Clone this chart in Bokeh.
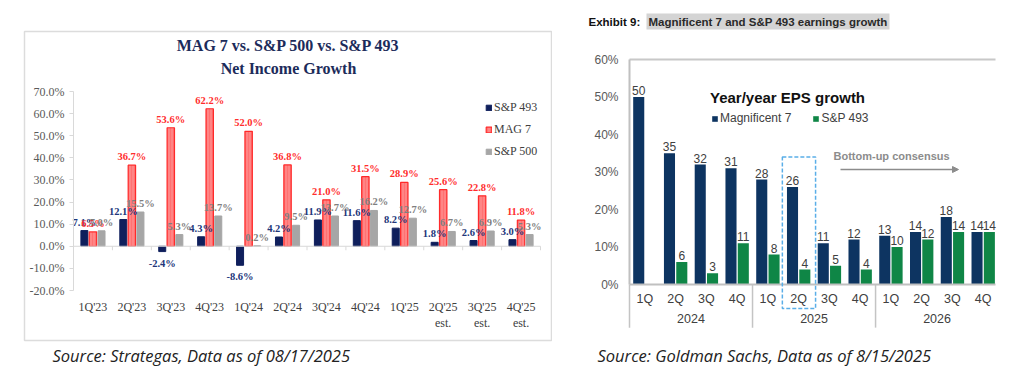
import numpy as np
from bokeh.plotting import figure
from bokeh.models import (ColumnDataSource, Range1d, FixedTicker, LinearAxis, Label,
                          BoxAnnotation, Legend, LegendItem, Arrow, NormalHead, PrintfTickFormatter)
from bokeh.transform import dodge
from bokeh.layouts import row
from bokeh.embed import file_html
from bokeh.resources import INLINE
from bokeh.core.properties import value

# ---------------- data: left chart (Strategas) ----------------
left_quarters = ["1Q'23", "2Q'23", "3Q'23", "4Q'23", "1Q'24", "2Q'24", "3Q'24", "4Q'24",
                 "1Q'25", "2Q'25\nest.", "3Q'25\nest.", "4Q'25\nest."]
sp493_ni = [7.1, 12.1, -2.4, 4.3, -8.6, 4.2, 11.9, 11.6, 8.2, 1.8, 2.6, 3.0]
mag7_ni = [6.5, 36.7, 53.6, 62.2, 52.0, 36.8, 21.0, 31.5, 28.9, 25.6, 22.8, 11.8]
sp500_ni = [7.0, 15.5, 5.3, 13.7, 0.2, 9.5, 13.7, 16.2, 12.7, 6.7, 6.9, 5.3]
left_yticks = [-20, -10, 0, 10, 20, 30, 40, 50, 60, 70]

# ---------------- data: right chart (Goldman Sachs) ----------------
right_quarters = ["1Q", "2Q", "3Q", "4Q", "1Q", "2Q", "3Q", "4Q", "1Q", "2Q", "3Q", "4Q"]
right_years = ["2024", "2025", "2026"]
mag7_eps = [50, 35, 32, 31, 28, 26, 11, 12, 13, 14, 18, 14]
sp493_eps = [None, 6, 3, 11, 8, 4, 5, 4, 10, 12, 14, 14]
right_yticks = [0, 10, 20, 30, 40, 50, 60]
highlight_quarter = 5  # index of 2Q 2025

# ---------------- styles ----------------
SERIF = "Liberation Serif"
SANS = "Liberation Sans"
NAVY_L = "#0f1f5c"
RED_FILL = "#ff8585"
RED_LINE = "#ff2a2a"
GRAY_L = "#a6a6a6"
NAVY_R = "#0d3461"
GREEN_R = "#0f8646"
FIG_H = 372
W1, W2 = 552, 470


def rng(px_a, val_a, px_b, val_b, size, flip=False):
    """Range so that pixel px_a shows val_a and px_b shows val_b on a canvas of `size` px."""
    s = (val_b - val_a) / (px_b - px_a)
    v0 = val_a + (0 - px_a) * s
    v1 = val_a + (size - px_a) * s
    return Range1d(v1, v0) if flip else Range1d(v0, v1)


def add_labels(fig, xs, vals, off, color, font, size, fmt, yoff_pos, yoff_neg, style="bold"):
    pos = [(x + off, v, fmt(v)) for x, v in zip(xs, vals) if v is not None and v >= 0]
    neg = [(x + off, v, fmt(v)) for x, v in zip(xs, vals) if v is not None and v < 0]
    for data, base, yo in ((pos, "bottom", yoff_pos), (neg, "top", yoff_neg)):
        if not data:
            continue
        s = ColumnDataSource(dict(x=[d[0] for d in data], y=[d[1] for d in data], t=[d[2] for d in data]))
        fig.text(x="x", y="y", text="t", source=s, text_align="center", text_baseline=base,
                 y_offset=yo, text_font=value(font), text_font_size=size, text_font_style=style,
                 text_color=color)


def canvas_label(fig, x, y, text, font, size, color, style="normal", align="left", **kw):
    fig.add_layout(Label(x=x, y=y, x_units="canvas", y_units="canvas", text=text, text_align=align,
                         text_baseline="middle", text_font=font, text_font_size=size,
                         text_font_style=style, text_color=color, **kw))


# ======================= LEFT FIGURE =======================
n1 = len(left_quarters)
xs1 = list(range(1, n1 + 1))
p1 = figure(width=W1, height=FIG_H, output_backend="svg", toolbar_location=None, title=None,
            x_range=rng(73, 0.5, 540, n1 + 0.5, W1), y_range=rng(91, 70, 290, -20, FIG_H, flip=True),
            min_border=0)
p1.grid.visible = False
p1.outline_line_color = None

src1 = ColumnDataSource(dict(x=xs1, sp493=sp493_ni, mag7=mag7_ni, sp500=sp500_ni))
r1a = p1.vbar(x=dodge("x", -0.22), top="sp493", width=0.18, fill_color=NAVY_L, line_color=NAVY_L, source=src1)
r1b = p1.vbar(x=dodge("x", 0.0), top="mag7", width=0.19, fill_color=RED_FILL, line_color=RED_LINE,
              line_width=1.2, hatch_pattern="vertical_line", hatch_color="#ff5c5c", hatch_scale=3,
              hatch_weight=0.8, hatch_alpha=0.6, source=src1)
r1c = p1.vbar(x=dodge("x", 0.22), top="sp500", width=0.18, fill_color=GRAY_L, line_color=GRAY_L, source=src1)

pct = lambda v: f"{v:.1f}%"
add_labels(p1, xs1, sp493_ni, -0.22, "#22367a", SERIF, "10.5px", pct, -3, 6)
add_labels(p1, xs1, mag7_ni, 0.0, "#ff2d2d", SERIF, "10.5px", pct, -3, 6)
add_labels(p1, xs1, sp500_ni, 0.22, "#7f7f7f", SERIF, "10.5px", pct, -3, 6)

# category labels axis (at the bottom of the value range)
xa = p1.xaxis[0]
xa.fixed_location = left_yticks[0]
xa.ticker = FixedTicker(ticks=xs1)
xa.major_label_overrides = {x: q for x, q in zip(xs1, left_quarters)}
xa.axis_line_color = None
xa.major_tick_line_color = None
xa.minor_tick_line_color = None
xa.major_tick_out = 0
xa.major_label_standoff = 9
xa.major_label_text_font = SERIF
xa.major_label_text_font_size = "12px"
xa.major_label_text_color = "#404040"

# zero line with small separators between categories
bnd = [i + 0.5 for i in range(n1 + 1)]
p1.segment(x0=[bnd[0]], y0=[0], x1=[bnd[-1]], y1=[0], line_color="#d9d9d9", line_width=1)
p1.segment(x0=bnd, y0=[0] * len(bnd), x1=bnd, y1=[-1.8] * len(bnd), line_color="#d9d9d9", line_width=1)

ya = p1.yaxis[0]
ya.fixed_location = 0.5
ya.bounds = (left_yticks[0], left_yticks[-1])
ya.ticker = FixedTicker(ticks=left_yticks)
ya.formatter = PrintfTickFormatter(format="%.1f%%")
ya.axis_line_color = "#d9d9d9"
ya.major_tick_line_color = "#d9d9d9"
ya.major_tick_out = 4
ya.major_tick_in = 0
ya.minor_tick_line_color = None
ya.major_label_standoff = 5
ya.major_label_text_font = SERIF
ya.major_label_text_font_size = "12px"
ya.major_label_text_color = "#595959"

leg1 = Legend(items=[LegendItem(label="S&P 493", renderers=[r1a]),
                     LegendItem(label="MAG 7", renderers=[r1b]),
                     LegendItem(label="S&P 500", renderers=[r1c])],
              location=(485, 211), padding=0, spacing=3, glyph_width=7, glyph_height=7,
              label_height=19, label_standoff=2, label_text_font=SERIF, label_text_font_size="12px",
              label_text_color="#404040", border_line_color=None, background_fill_alpha=0)
p1.add_layout(leg1)

p1.add_layout(BoxAnnotation(left=24, right=551, top=31, bottom=340, left_units="canvas", right_units="canvas",
                            top_units="canvas", bottom_units="canvas", fill_alpha=0,
                            line_color="#dcdcdc", line_alpha=1, line_width=1.5))
canvas_label(p1, 288, 45, "MAG 7 vs. S&P 500 vs. S&P 493", SERIF, "16px", "#1c2b5a", "bold", "center")
canvas_label(p1, 288, 68, "Net Income Growth", SERIF, "16px", "#1c2b5a", "bold", "center")
canvas_label(p1, 52, 355, "Source: Strategas, Data as of 08/17/2025", "Open Sans", "16.5px", "#222222", "italic")

# ======================= RIGHT FIGURE =======================
n2 = len(right_quarters)
xs2 = list(range(1, n2 + 1))
x_lo, x_hi = 0.5, n2 + 0.4
p2 = figure(width=W2, height=FIG_H, output_backend="svg", toolbar_location=None, title=None,
            x_range=rng(77, x_lo, 443, x_hi, W2), y_range=rng(59, 60, 284, 0, FIG_H, flip=True),
            min_border=0)
p2.grid.visible = False
p2.outline_line_color = None

src2 = ColumnDataSource(dict(x=xs2, mag7=mag7_eps, sp493=np.array(sp493_eps, dtype=float)))
r2a = p2.vbar(x=dodge("x", -0.2), top="mag7", width=0.36, fill_color=NAVY_R, line_color=None, source=src2)
r2b = p2.vbar(x=dodge("x", 0.2), top="sp493", width=0.36, fill_color=GREEN_R, line_color=None, source=src2)

intf = lambda v: f"{v:.0f}"
add_labels(p2, xs2, mag7_eps, -0.2, "#404040", SANS, "12px", intf, -2, 4, style="normal")
add_labels(p2, xs2, sp493_eps, 0.2, "#404040", SANS, "12px", intf, -2, 4, style="normal")

qa = p2.xaxis[0]
qa.fixed_location = 0
qa.bounds = (x_lo, x_hi)
qa.ticker = FixedTicker(ticks=xs2)
qa.major_label_overrides = {x: q for x, q in zip(xs2, right_quarters)}
qa.axis_line_color = "#c0c0c0"
qa.axis_line_width = 2
qa.major_tick_line_color = None
qa.minor_tick_line_color = None
qa.major_tick_out = 0
qa.major_label_standoff = 7
qa.major_label_text_font = SANS
qa.major_label_text_font_size = "12.5px"
qa.major_label_text_color = "#404040"

nq = n2 // len(right_years)
year_ticks = [k * nq + (nq + 1) / 2 for k in range(len(right_years))]
year_ax = LinearAxis(fixed_location=0, ticker=FixedTicker(ticks=year_ticks),
                     major_label_overrides={t: y for t, y in zip(year_ticks, right_years)},
                     axis_line_color=None, major_tick_line_color=None, minor_tick_line_color=None,
                     major_tick_out=0, major_label_standoff=29, major_label_text_font=SANS,
                     major_label_text_font_size="12.5px", major_label_text_color="#404040")
p2.add_layout(year_ax, "below")

# year-group separators below the axis and the top frame line
sep = [k * nq + 0.5 for k in range(len(right_years))]
p2.segment(x0=sep, y0=[0] * len(sep), x1=sep, y1=[-11.5] * len(sep), line_color="#c4c4c4", line_width=1.5)
p2.segment(x0=[x_lo], y0=[right_yticks[-1]], x1=[x_hi], y1=[right_yticks[-1]], line_color="#c8c8c8", line_width=2)

yb = p2.yaxis[0]
yb.fixed_location = x_lo
yb.bounds = (right_yticks[0], right_yticks[-1])
yb.ticker = FixedTicker(ticks=right_yticks)
yb.formatter = PrintfTickFormatter(format="%d%%")
yb.axis_line_color = "#c0c0c0"
yb.axis_line_width = 2
yb.major_tick_line_color = None
yb.minor_tick_line_color = None
yb.major_tick_out = 0
yb.major_label_standoff = 11
yb.major_label_text_font = SANS
yb.major_label_text_font_size = "12px"
yb.major_label_text_color = "#595959"

leg2 = Legend(items=[LegendItem(label="Magnificent 7", renderers=[r2a]),
                     LegendItem(label="S&P 493", renderers=[r2b])],
              orientation="horizontal", location=(159, 247), padding=0, spacing=21,
              glyph_width=7, glyph_height=7, label_height=14, label_standoff=2,
              label_text_font=SANS, label_text_font_size="12px", label_text_color="#404040",
              border_line_color=None, background_fill_alpha=0)
p2.add_layout(leg2)

hq = highlight_quarter + 1
p2.add_layout(BoxAnnotation(left=hq - 0.53, right=hq + 0.55, top=34, bottom=308, bottom_units="canvas",
                            fill_alpha=0, line_color="#5aaee8", line_alpha=1, line_width=1.5, line_dash="4 2"))

canvas_label(p2, 235, 97, "Year/year EPS growth", SANS, "15px", "#111111", "bold", "center")
canvas_label(p2, 281, 155, "Bottom-up consensus", SANS, "11px", "#8c8c8c", "bold")
p2.add_layout(Arrow(x_start=288, y_start=169, x_end=406, y_end=169, start_units="canvas", end_units="canvas",
                    line_color="#8c8c8c", line_width=1.5,
                    end=NormalHead(size=6, fill_color="#8c8c8c", line_color="#8c8c8c")))
canvas_label(p2, 36, 21, "Exhibit 9:", SANS, "11.5px", "#111111", "bold")
canvas_label(p2, 94, 21, "Magnificent 7 and S&P 493 earnings growth", SANS, "11.5px",
             "#2a2a2a", "bold", background_fill_color="#d4d4d4", padding=2)
canvas_label(p2, 45, 355, "Source: Goldman Sachs, Data as of 8/15/2025", "Open Sans", "16.5px", "#222222", "italic")

layout = row(p1, p2)
open("out.html", "w").write(file_html(layout, INLINE))
